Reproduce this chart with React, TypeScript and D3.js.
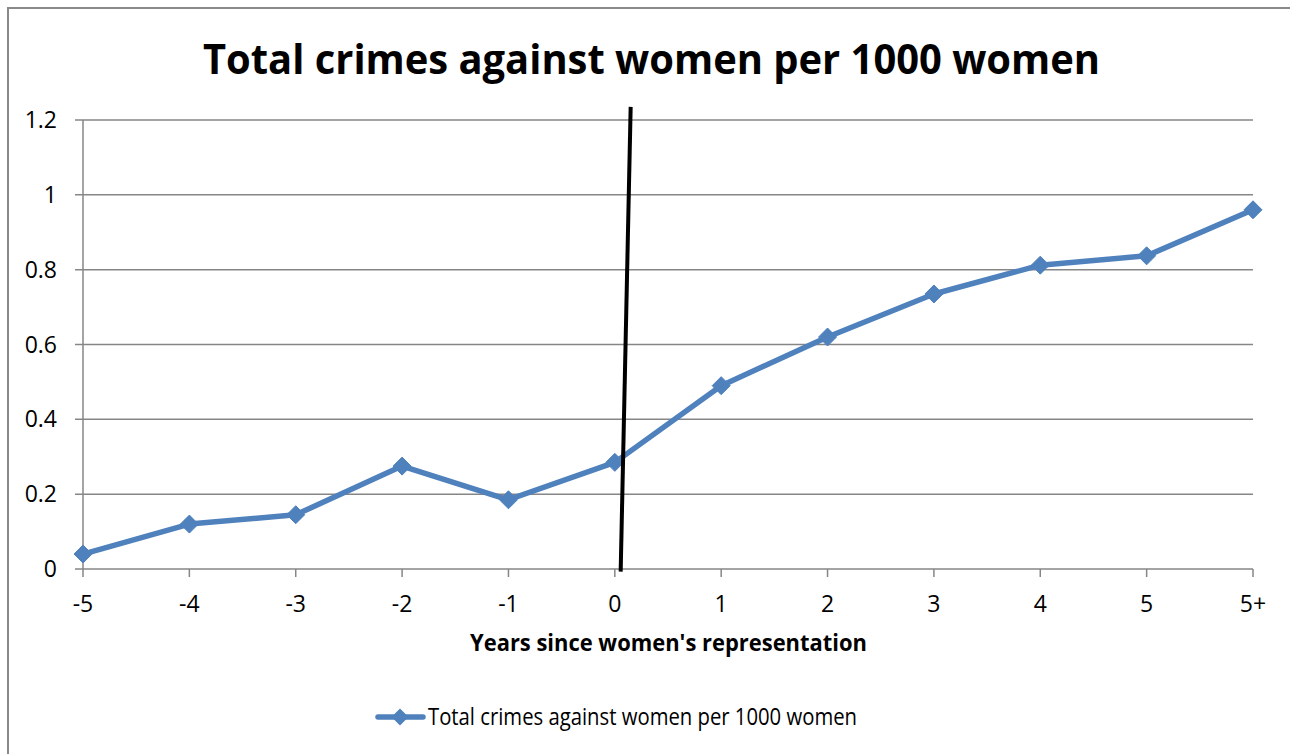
import React from "react";
import * as d3 from "d3";

const categories = ["-5", "-4", "-3", "-2", "-1", "0", "1", "2", "3", "4", "5", "5+"];
const values = [0.04, 0.12, 0.145, 0.275, 0.185, 0.285, 0.49, 0.62, 0.735, 0.812, 0.837, 0.96];
const yTicks = [0, 0.2, 0.4, 0.6, 0.8, 1, 1.2];
const yTickLabels = ["0", "0.2", "0.4", "0.6", "0.8", "1", "1.2"];
// annotation line in data space: [category index, value]
const markerLine: [number, number][] = [
  [5.149, 1.235],
  [5.055, -0.007],
];
const title = "Total crimes against women per 1000 women";
const xTitle = "Years since women's representation";
const seriesName = "Total crimes against women per 1000 women";

const W = 1290;
const H = 754;
const left = 83;
const right = 1253;
const top = 120;
const bottom = 569;
const blue = "#4F81BD";
const grid = "#868686";
const font = "'Open Sans', 'Liberation Sans', sans-serif";

function diamond(cx: number, cy: number, r: number) {
  return `M${cx},${cy - r}L${cx + r},${cy}L${cx},${cy + r}L${cx - r},${cy}Z`;
}

export default function App() {
  const x = d3.scalePoint<string>().domain(categories).range([left, right]);
  const xi = d3.scaleLinear().domain([0, categories.length - 1]).range([left, right]);
  const y = d3.scaleLinear().domain([0, 1.2]).range([bottom, top]);
  const line = d3
    .line<number>()
    .x((_, i) => x(categories[i]) as number)
    .y((d) => y(d));
  const annot = d3
    .line<[number, number]>()
    .x((d) => xi(d[0]))
    .y((d) => y(d[1]));

  return (
    <svg
      width={W}
      height={H}
      style={{ position: "fixed", left: 0, top: 0, background: "#fff" }}
    >
      <rect x={0} y={0} width={W} height={H} fill="#fff" />
      <rect x={8} y={8} width={W + 20} height={H + 20} fill="none" stroke="#898989" strokeWidth={2} />
      <text
        x={651.5}
        y={74}
        textAnchor="middle"
        fontFamily={font}
        fontWeight="bold"
        fontSize={42}
        textLength={897}
        lengthAdjust="spacingAndGlyphs"
        fill="#000"
      >
        {title}
      </text>
      {/* gridlines */}
      {yTicks.map((t, i) => (
        <g key={"g" + i}>
          <line x1={left - 8} x2={right} y1={y(t)} y2={y(t)} stroke={grid} strokeWidth={1.5} />
          <text
            x={57}
            y={y(t) + 8}
            textAnchor="end"
            fontFamily={font}
            fontSize={23}
            fill="#000"
          >
            {yTickLabels[i]}
          </text>
        </g>
      ))}
      {/* y axis */}
      <line x1={left} x2={left} y1={top} y2={bottom} stroke={grid} strokeWidth={1.5} />
      {/* x ticks */}
      {categories.map((c) => (
        <g key={"x" + c}>
          <line x1={x(c)} x2={x(c)} y1={bottom} y2={bottom + 8} stroke={grid} strokeWidth={1.5} />
          <text
            x={x(c)}
            y={612}
            textAnchor="middle"
            fontFamily={font}
            fontSize={23}
            fill="#000"
          >
            {c}
          </text>
        </g>
      ))}
      <text
        x={668.5}
        y={651}
        textAnchor="middle"
        fontFamily={font}
        fontWeight="bold"
        fontSize={23}
        textLength={397}
        lengthAdjust="spacingAndGlyphs"
        fill="#000"
      >
        {xTitle}
      </text>
      {/* series */}
      <path d={line(values) || ""} fill="none" stroke={blue} strokeWidth={5.5} strokeLinejoin="round" />
      {values.map((v, i) => (
        <path key={"m" + i} d={diamond(x(categories[i]) as number, y(v), 9)} fill={blue} stroke={blue} strokeWidth={1} />
      ))}
      {/* annotation */}
      <path d={annot(markerLine) || ""} fill="none" stroke="#000" strokeWidth={4} />
      {/* legend */}
      <line x1={378} x2={423} y1={717} y2={717} stroke={blue} strokeWidth={5.5} strokeLinecap="round" />
      <path d={diamond(400, 717, 8.5)} fill={blue} />
      <text
        x={428}
        y={725}
        fontFamily={font}
        fontSize={23}
        textLength={429}
        lengthAdjust="spacingAndGlyphs"
        fill="#000"
      >
        {seriesName}
      </text>
    </svg>
  );
}
